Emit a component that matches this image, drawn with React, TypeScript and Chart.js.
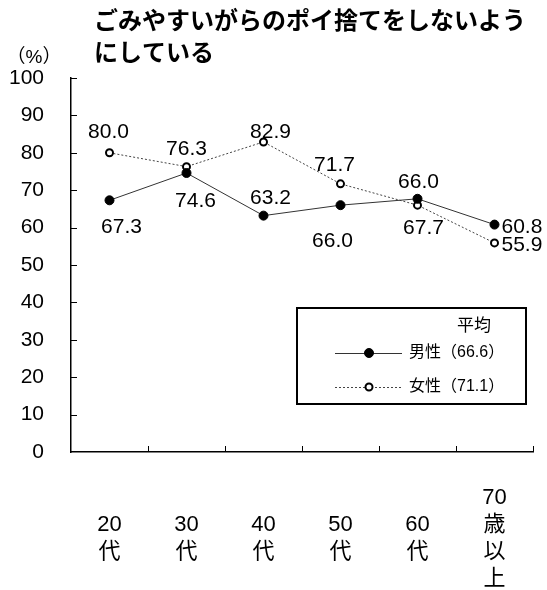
import React, { useEffect, useRef } from "react";
import { Chart, registerables } from "chart.js";

Chart.register(...registerables);

// ---- data ----
const TITLE_LINES = ["ごみやすいがらのポイ捨てをしないよう", "にしている"];
const UNIT_LABEL = "（%）";
const CATEGORIES: string[][] = [
  ["20", "代"],
  ["30", "代"],
  ["40", "代"],
  ["50", "代"],
  ["60", "代"],
  ["70", "歳", "以", "上"],
];
const MALE_VALUES = [67.3, 74.6, 63.2, 66.0, 67.7, 60.8];
const FEMALE_VALUES = [80.0, 76.3, 82.9, 71.7, 66.0, 55.9];
const SERIES_NAMES = ["男性", "女性"];
const SERIES_AVERAGES = ["66.6", "71.1"];
const LEGEND_TITLE = "平均";
const Y_MIN = 0;
const Y_MAX = 100;
const Y_STEP = 10;

// ---- label placement (pixels relative to each point): [dx, dy, align] ----
const MALE_LABEL_PLACEMENT: [number, number, CanvasTextAlign][] = [
  [12, 25, "center"],
  [9, 27, "center"],
  [7, -19, "center"],
  [-8, 34, "center"],
  [6, 28, "center"],
  [7, 1, "left"],
];
const FEMALE_LABEL_PLACEMENT: [number, number, CanvasTextAlign][] = [
  [-1, -22, "center"],
  [0, -19, "center"],
  [7, -11, "center"],
  [-6, -20, "center"],
  [1, -25, "center"],
  [7, 1, "left"],
];

const LATIN = "'Liberation Sans', 'Noto Sans CJK JP', sans-serif";
const CJK = "'Noto Sans CJK JP', 'Liberation Sans', sans-serif";

const WIDTH = 547;
const HEIGHT = 590;

function drawMarker(ctx: CanvasRenderingContext2D, ds: any, x: number, y: number) {
  ctx.save();
  ctx.beginPath();
  ctx.arc(x, y, ds.pointRadius, 0, Math.PI * 2);
  ctx.fillStyle = ds.pointBackgroundColor;
  ctx.fill();
  if (ds.pointBorderWidth > 0) {
    ctx.lineWidth = ds.pointBorderWidth;
    ctx.strokeStyle = ds.pointBorderColor;
    ctx.stroke();
  }
  ctx.restore();
}

const decorPlugin = {
  id: "decor",
  beforeDatasetsDraw(chart: any) {
    const ctx: CanvasRenderingContext2D = chart.ctx;
    const xs = chart.scales.x;
    const ys = chart.scales.y;
    const { left, bottom } = chart.chartArea;
    ctx.save();
    ctx.strokeStyle = "#000";
    ctx.lineWidth = 1;
    ys.ticks.forEach((t: any, i: number) => {
      if (t.value === Y_MIN) return;
      const py = Math.round(ys.getPixelForTick(i)) + 0.5;
      ctx.beginPath();
      ctx.moveTo(left, py);
      ctx.lineTo(left + 6, py);
      ctx.stroke();
    });
    for (let i = 1; i <= CATEGORIES.length; i++) {
      const px = Math.round(xs.getPixelForValue(i - 0.5)) + 0.5;
      ctx.beginPath();
      ctx.moveTo(px, bottom);
      ctx.lineTo(px, bottom - 6);
      ctx.stroke();
    }
    ctx.restore();
  },
  afterDatasetsDraw(chart: any) {
    const ctx: CanvasRenderingContext2D = chart.ctx;
    const placements = [MALE_LABEL_PLACEMENT, FEMALE_LABEL_PLACEMENT];
    ctx.save();
    ctx.fillStyle = "#000";
    ctx.font = `21px ${LATIN}`;
    ctx.textBaseline = "alphabetic";
    chart.data.datasets.forEach((ds: any, di: number) => {
      const meta = chart.getDatasetMeta(di);
      meta.data.forEach((pt: any, i: number) => {
        const [dx, dy, align] = placements[di][i];
        ctx.textAlign = align;
        ctx.fillText(Number(ds.data[i]).toFixed(1), pt.x + dx, pt.y + dy + 7.5);
      });
    });
    ctx.restore();
  },
  afterDraw(chart: any) {
    const ctx: CanvasRenderingContext2D = chart.ctx;
    const { right, bottom } = chart.chartArea;
    ctx.save();
    // title
    ctx.fillStyle = "#000";
    ctx.font = `bold 24px ${CJK}`;
    ctx.textAlign = "left";
    ctx.textBaseline = "middle";
    ctx.fillText(TITLE_LINES[0], 94, 20);
    ctx.fillText(TITLE_LINES[1], 94, 52);
    // unit
    ctx.font = `19px ${LATIN}`;
    ctx.textAlign = "center";
    ctx.fillText(UNIT_LABEL, 34, 58);

    // legend box
    const bx = right - 236;
    const by = bottom - 144;
    const bw = 229;
    const bh = 96;
    ctx.fillStyle = "#fff";
    ctx.fillRect(bx, by, bw, bh);
    ctx.strokeStyle = "#000";
    ctx.lineWidth = 2;
    ctx.strokeRect(bx, by, bw, bh);
    ctx.fillStyle = "#000";
    ctx.font = `17px ${CJK}`;
    ctx.textAlign = "center";
    ctx.textBaseline = "middle";
    ctx.fillText(LEGEND_TITLE, bx + 177, by + 17);
    chart.data.datasets.forEach((ds: any, di: number) => {
      const ry = by + 45 + di * 34;
      ctx.save();
      ctx.strokeStyle = ds.borderColor;
      ctx.lineWidth = ds.borderWidth;
      ctx.setLineDash(ds.borderDash || []);
      ctx.beginPath();
      ctx.moveTo(bx + 38, ry + 0.5);
      ctx.lineTo(bx + 105, ry + 0.5);
      ctx.stroke();
      ctx.restore();
      drawMarker(ctx, ds, bx + 72, ry);
      ctx.fillStyle = "#000";
      ctx.font = `16px ${LATIN}`;
      ctx.textAlign = "left";
      ctx.textBaseline = "middle";
      ctx.fillText(`${SERIES_NAMES[di]}（${SERIES_AVERAGES[di]}）`, bx + 112, ry);
    });
    ctx.restore();
  },
};

export default function App() {
  const canvasRef = useRef<HTMLCanvasElement | null>(null);

  useEffect(() => {
    document.body.style.margin = "0";
    document.body.style.overflow = "hidden";
    const canvas = canvasRef.current;
    if (!canvas) return;
    const chart = new Chart(canvas, {
      type: "line",
      data: {
        labels: CATEGORIES,
        datasets: [
          {
            label: SERIES_NAMES[0],
            data: MALE_VALUES,
            borderColor: "#333",
            borderWidth: 1,
            borderDash: [],
            pointRadius: 4.5,
            pointBackgroundColor: "#000",
            pointBorderColor: "#000",
            pointBorderWidth: 1,
            fill: false,
            tension: 0,
          } as any,
          {
            label: SERIES_NAMES[1],
            data: FEMALE_VALUES,
            borderColor: "#444",
            borderWidth: 1,
            borderDash: [2, 2],
            pointRadius: 3.5,
            pointBackgroundColor: "#fff",
            pointBorderColor: "#000",
            pointBorderWidth: 2,
            fill: false,
            tension: 0,
          } as any,
        ],
      },
      options: {
        responsive: false,
        animation: false,
        events: [],
        layout: { padding: { top: 78, right: 14, left: 0, bottom: 0 } },
        plugins: {
          legend: { display: false },
          tooltip: { enabled: false },
          title: { display: false },
        },
        scales: {
          x: {
            type: "category",
            offset: true,
            grid: { display: false, drawTicks: false, offset: true },
            border: { display: true, color: "#000", width: 1.5 },
            ticks: {
              color: "#000",
              font: { family: LATIN, size: 22, lineHeight: "27px" } as any,
              maxRotation: 0,
              minRotation: 0,
              autoSkip: false,
              padding: 46,
              crossAlign: "center",
            },
            afterFit: (scale: any) => {
              scale.height = 138;
              scale.paddingLeft = 0;
              scale.paddingRight = 0;
            },
          },
          y: {
            min: Y_MIN,
            max: Y_MAX,
            grid: { display: false, drawTicks: false },
            border: { display: true, color: "#000", width: 1.5 },
            ticks: {
              stepSize: Y_STEP,
              color: "#000",
              font: { family: LATIN, size: 21 },
              padding: 27,
            },
            afterFit: (scale: any) => {
              scale.width = 71;
            },
          },
        },
      } as any,
      plugins: [decorPlugin],
    });
    return () => chart.destroy();
  }, []);

  return (
    <div style={{ width: WIDTH, height: HEIGHT, position: "relative" }}>
      <canvas ref={canvasRef} width={WIDTH} height={HEIGHT} />
    </div>
  );
}
